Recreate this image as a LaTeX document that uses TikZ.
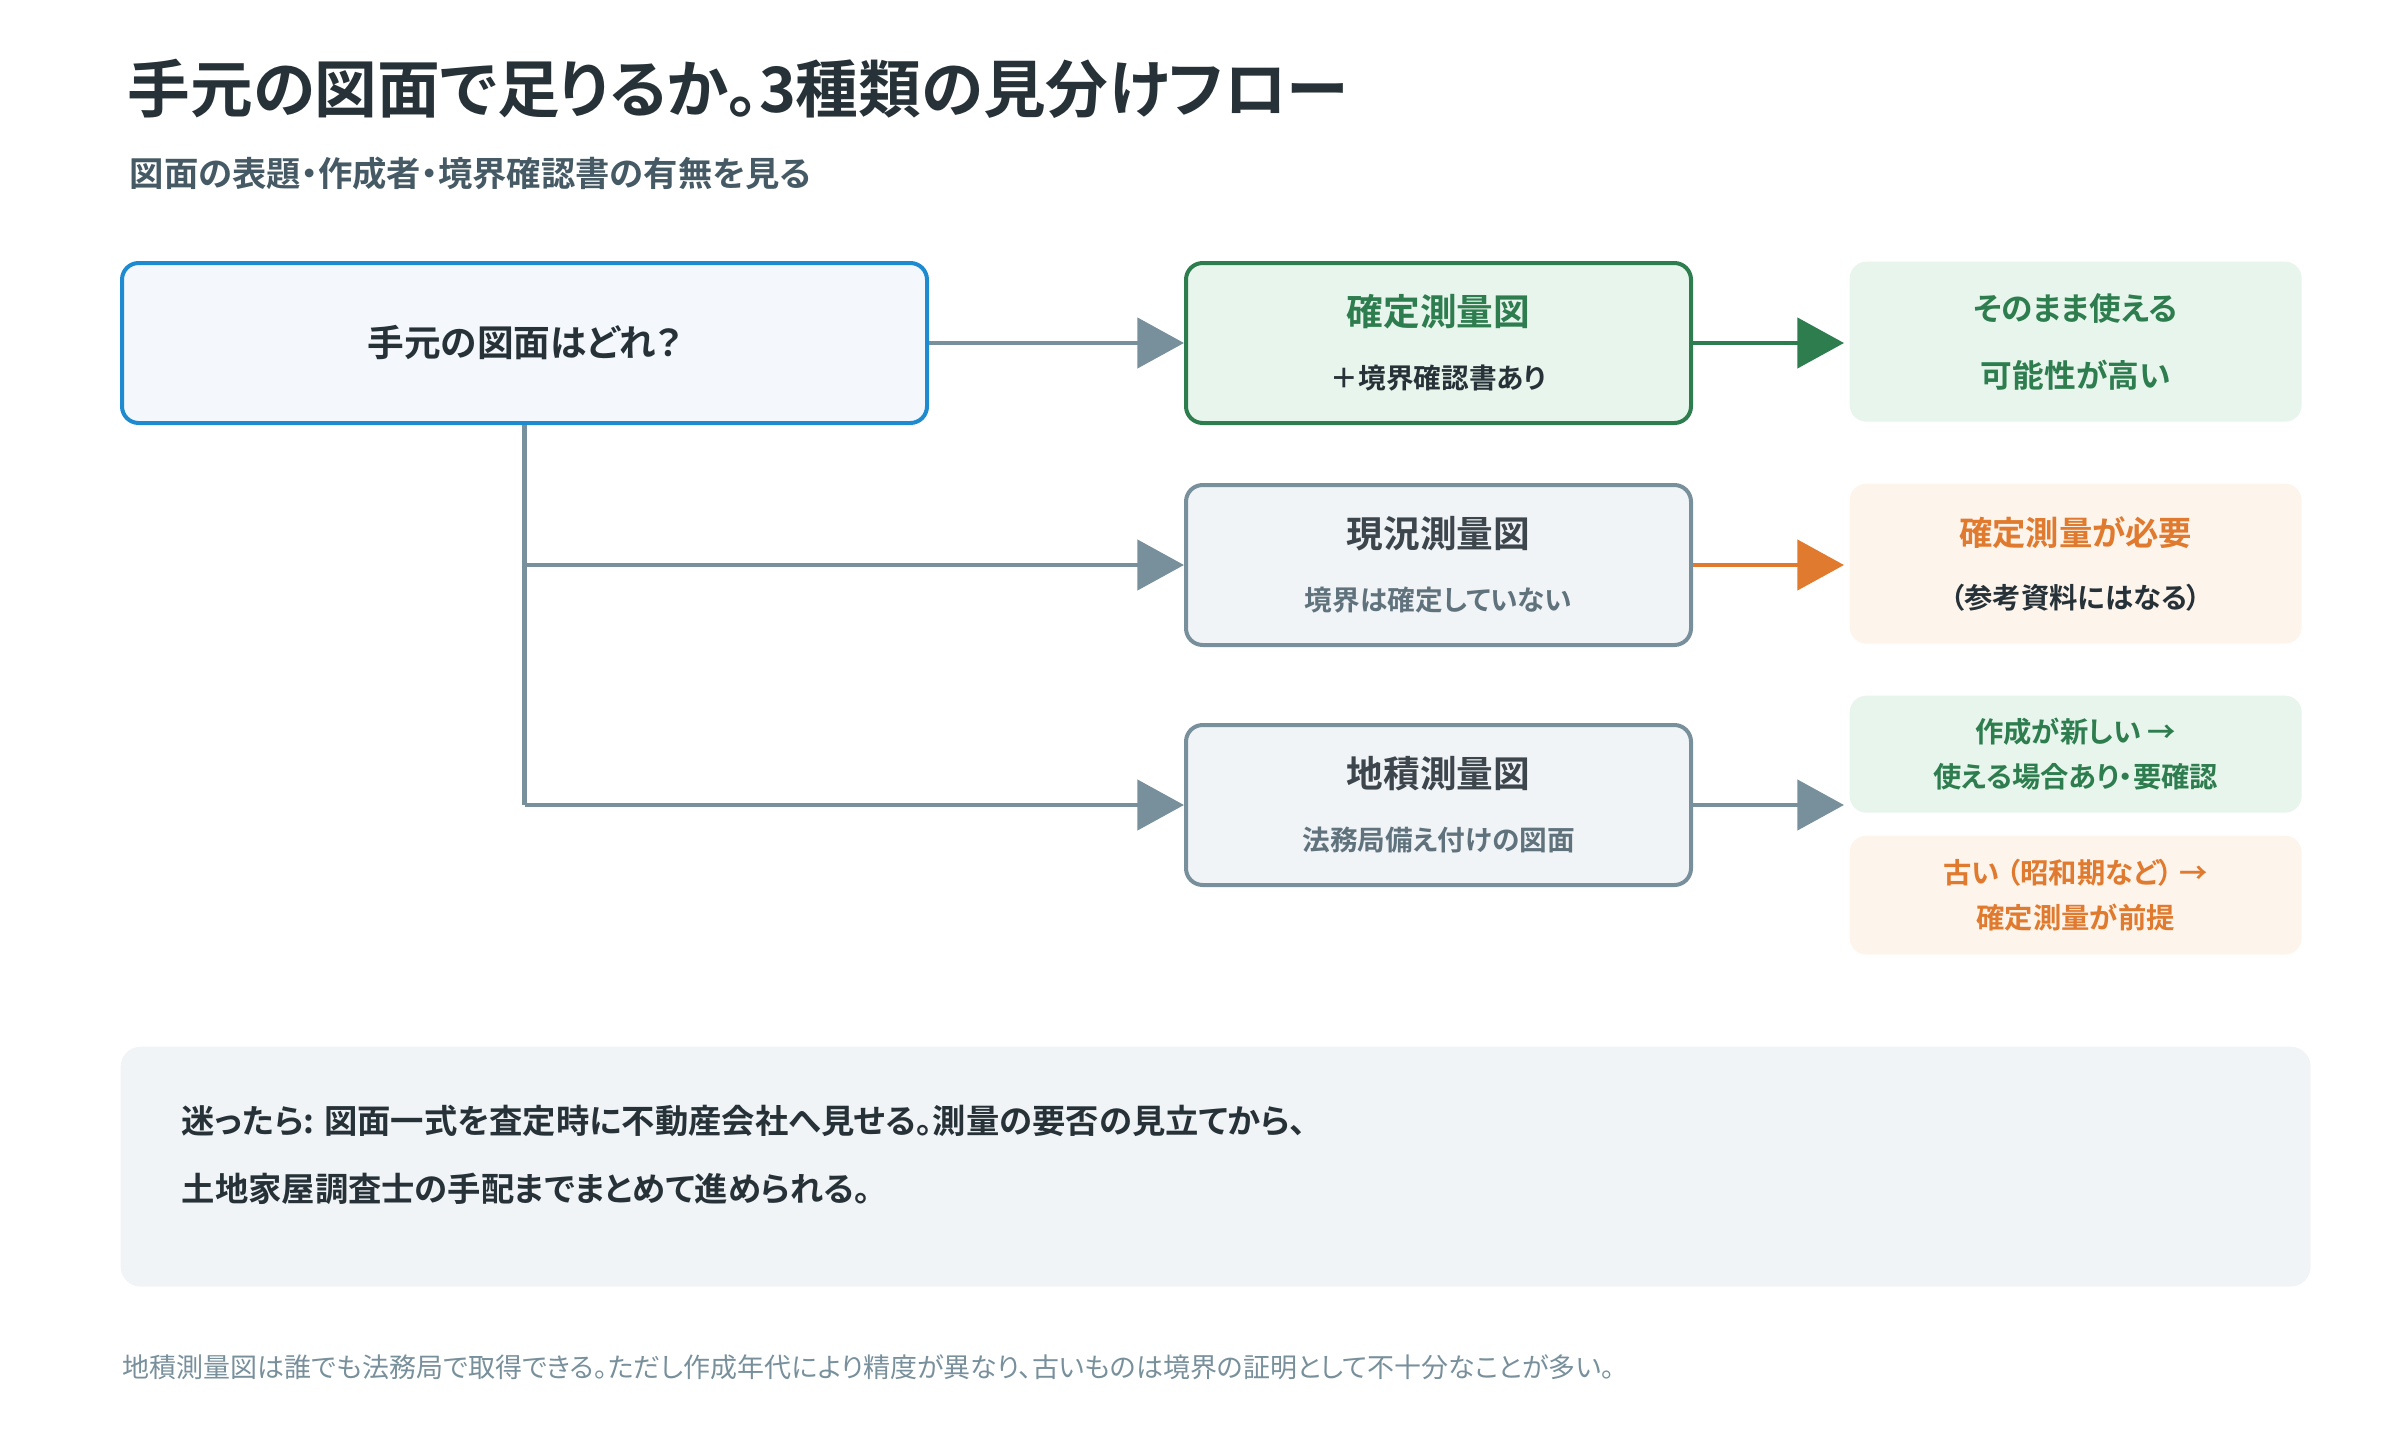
\documentclass[tikz,border=0pt]{standalone}
\usepackage{fontspec}
\setmainfont{Noto Sans CJK JP}[BoldFont=Noto Sans CJK JP Bold,RawFeature=+palt]
\newfontfamily\plainjp{Noto Sans CJK JP}
\usetikzlibrary{arrows.meta}
\definecolor{ink}{HTML}{263238}
\definecolor{sub}{HTML}{455A64}
\definecolor{blu}{HTML}{1E8ACF}
\definecolor{startfill}{HTML}{F4F8FC}
\definecolor{grn}{HTML}{2E7D4F}
\definecolor{grnfill}{HTML}{E8F5EC}
\definecolor{gry}{HTML}{78909C}
\definecolor{gryfill}{HTML}{F1F4F7}
\definecolor{org}{HTML}{E07A2E}
\definecolor{orgfill}{HTML}{FDF4EC}
\definecolor{foot}{HTML}{78909C}
\begin{document}
\begin{tikzpicture}[x=0.3pt,y=-0.3pt,
  box/.style={draw,line width=1.2pt,rounded corners=5pt,minimum width=505*0.3pt,minimum height=160*0.3pt,align=center,anchor=north west,inner sep=0},
  rbox/.style={rounded corners=5pt,minimum width=452*0.3pt,align=center,anchor=north west,inner sep=0},
  conn/.style={line width=1.4pt,gry,-{Triangle[length=14pt,width=15pt]}}]
\useasboundingbox (0,0) rectangle (2400,1440);
\node[anchor=west,font=\bfseries\fontsize{18.8}{22}\selectfont,text=ink] (title) at (116,89) {手元の図面で足りるか。3種類の見分けフロー};
\node[anchor=west,font=\bfseries\fontsize{10.3}{12}\selectfont,text=sub] (subt) at (118,174) {図面の表題・作成者・境界確認書の有無を見る};
\node[box,draw=blu,fill=startfill,minimum width=805*0.3pt,font=\bfseries\fontsize{11}{13}\selectfont,text=ink] (start) at (120,261) {手元の図面はどれ？};
\node[box,draw=grn,fill=grnfill] (b1) at (1184,261) {{\bfseries\fontsize{11}{13}\selectfont\color{grn}確定測量図}\\[7pt]{\bfseries\fontsize{8.3}{10}\selectfont\color{ink}＋境界確認書あり}};
\node[box,draw=gry,fill=gryfill] (b2) at (1184,483) {{\bfseries\fontsize{11}{13}\selectfont\color{ink!90}現況測量図}\\[7pt]{\bfseries\fontsize{8.3}{10}\selectfont\color{gry!80!black}境界は確定していない}};
\node[box,draw=gry,fill=gryfill] (b3) at (1184,723) {{\bfseries\fontsize{11}{13}\selectfont\color{ink!90}地積測量図}\\[7pt]{\bfseries\fontsize{8.3}{10}\selectfont\color{gry!80!black}法務局備え付けの図面}};
\node[rbox,fill=grnfill,minimum height=160*0.3pt,text=grn,font=\bfseries\fontsize{9.5}{20}\selectfont] (r1) at (1849,261) {そのまま使える\\可能性が高い};
\node[rbox,fill=orgfill,minimum height=160*0.3pt] (r2) at (1849,483) {{\bfseries\fontsize{10}{12}\selectfont\color{org}確定測量が必要}\\[7pt]{\bfseries\fontsize{8.5}{10}\selectfont\color{ink}（参考資料にはなる）}};
\node[rbox,fill=grnfill,minimum height=117*0.3pt,text=grn,font=\bfseries\fontsize{8.5}{13.5}\selectfont] (r3) at (1849,695) {作成が新しい →\\使える場合あり・要確認};
\node[rbox,fill=orgfill,minimum height=119*0.3pt,text=org,font=\bfseries\fontsize{8.5}{13.5}\selectfont] (r4) at (1849,835) {古い （昭和期など） →\\確定測量が前提};
\coordinate (t1) at (start.south);
\path (b2.west -| t1) coordinate (t2);
\path (b3.west -| t1) coordinate (t3);
\draw[conn] (start.east) -- (b1.west);
\draw[line width=1.4pt,gry] (t1) -- (t3);
\draw[conn] (t2) -- (b2.west);
\draw[conn] (t3) -- (b3.west);
\draw[conn,grn] (b1.east) -- ++(151,0) coordinate (e1);
\draw[conn,org] (b2.east) -- ++(151,0) coordinate (e2);
\draw[conn] (b3.east) -- ++(151,0) coordinate (e3);
\node[fill=gryfill,rounded corners=6pt,minimum width=2190*0.3pt,minimum height=240*0.3pt,anchor=north west,inner sep=0] (panel) at (120,1046) {};
\node[anchor=north west,align=left,font=\bfseries\fontsize{10}{20.4}\selectfont,text=ink,inner sep=0] (ptext) at (181,1104) {迷ったら: 図面一式を査定時に不動産会社へ見せる。測量の要否の見立てから、\\土地家屋調査士の手配までまとめて進められる。};
\node[anchor=west,font=\fontsize{8.1}{9}\selectfont,text=foot,inner sep=0] (footer) at (122,1367) {地積測量図は誰でも法務局で取得できる。ただし作成年代により精度が異なり、古いものは境界の証明として不十分なことが多い。};
\end{tikzpicture}
\end{document}
